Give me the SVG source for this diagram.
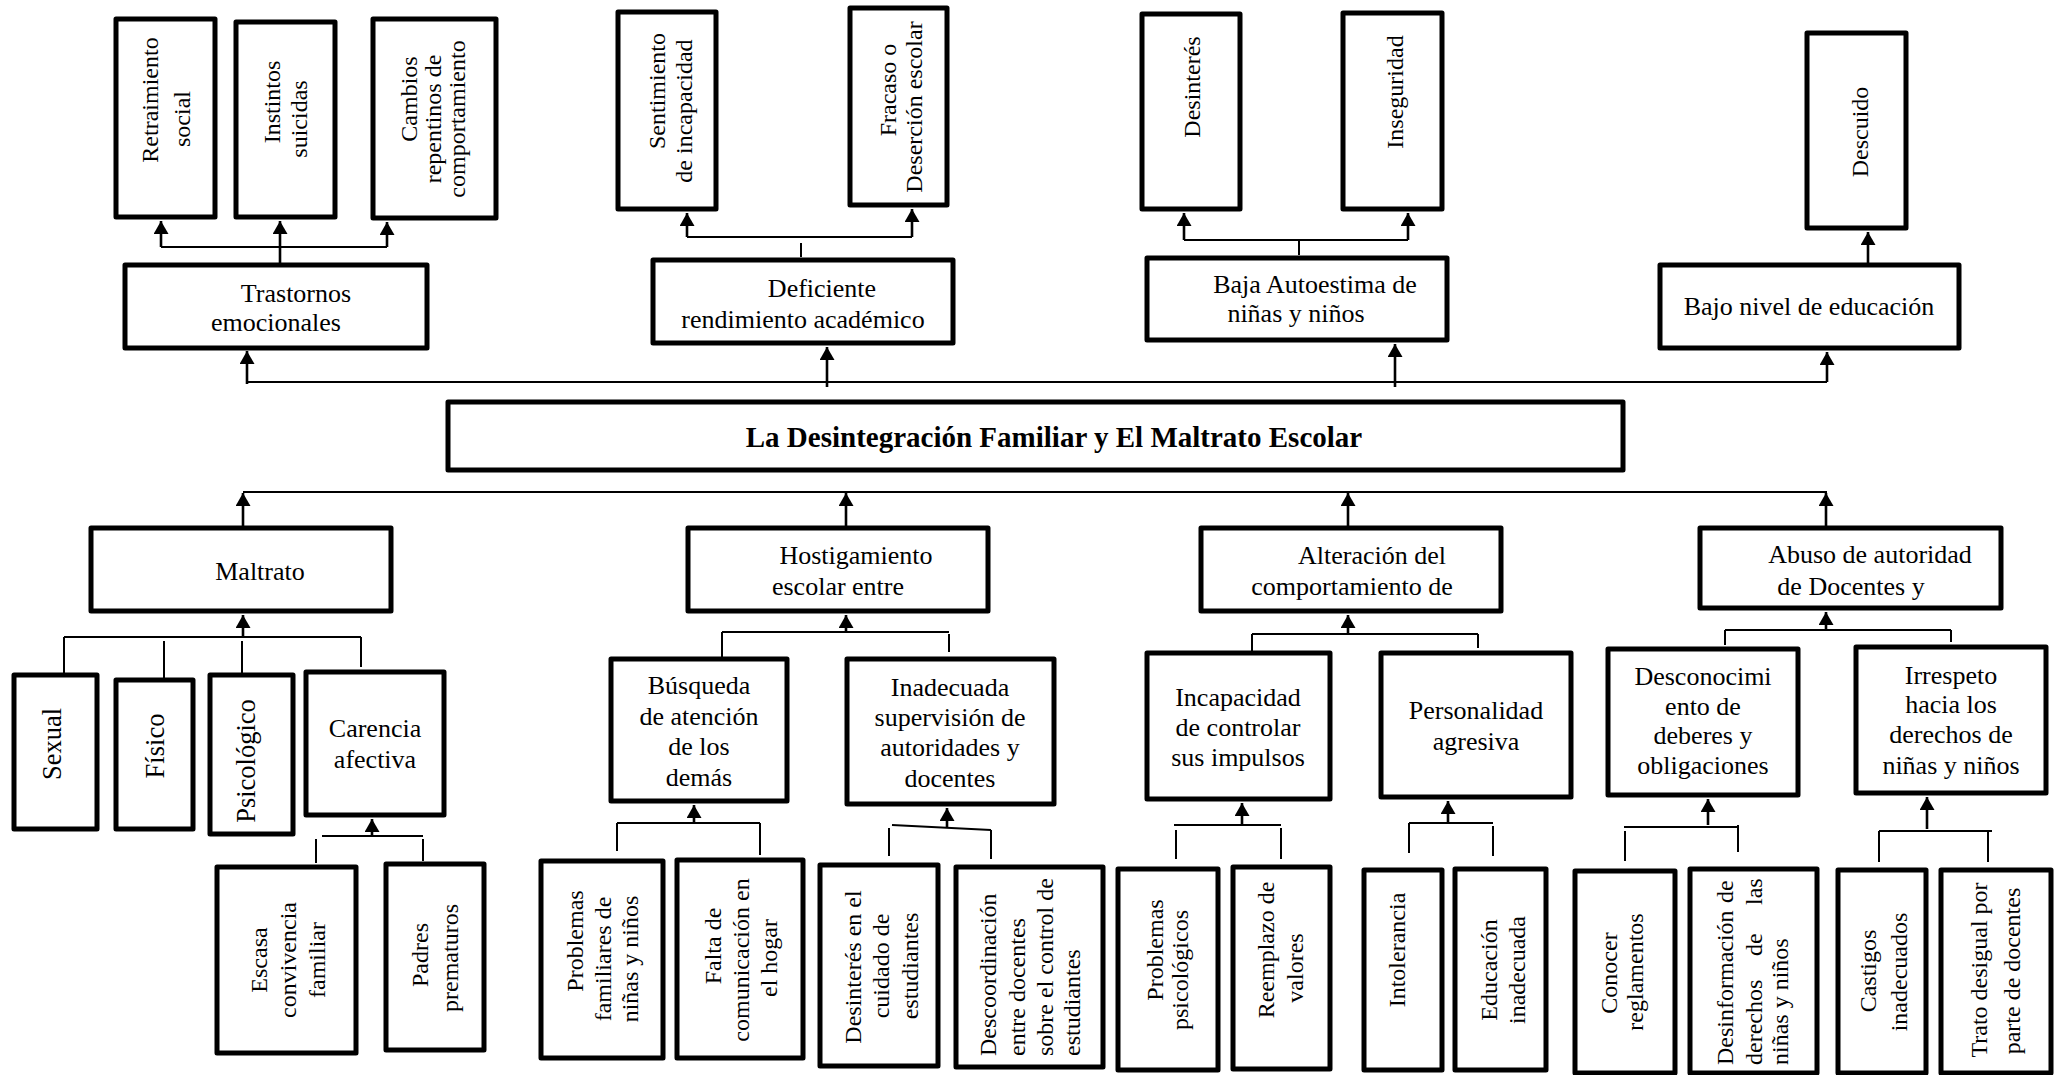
<svg xmlns="http://www.w3.org/2000/svg" width="2063" height="1075" viewBox="0 0 2063 1075">
<style>
.box{fill:#fff;stroke:#000;stroke-width:5;stroke-linejoin:round}
.t{font-family:"Liberation Serif","Times New Roman",serif;font-size:26px;fill:#000;text-anchor:middle}
.tb{font-family:"Liberation Serif","Times New Roman",serif;font-size:29px;font-weight:bold;fill:#000;text-anchor:middle}
.v{font-family:"Liberation Serif","Times New Roman",serif;font-size:24px;fill:#000;text-anchor:middle}
.vs{font-family:"Liberation Serif","Times New Roman",serif;font-size:24px;fill:#000;text-anchor:start}
.vl{font-family:"Liberation Serif","Times New Roman",serif;font-size:26.5px;fill:#000;text-anchor:middle}
.c{stroke:#000;stroke-width:2;fill:none}
.a{stroke-width:2.6;marker-end:url(#ah)}
</style>
<defs>
<marker id="ah" viewBox="0 0 13 15" markerWidth="13" markerHeight="15" refX="13" refY="7.5" orient="auto" markerUnits="userSpaceOnUse">
<path d="M0,0 L13,7.5 L0,15 z" fill="#000"/>
</marker>
</defs>
<rect width="2063" height="1075" fill="#fff"/>

<g id="connectors">
<path class="c" d="M247,382 H1827"/>
<path class="c a" d="M247,384 V351"/>
<path class="c a" d="M827,387 V347"/>
<path class="c a" d="M1395,387 V344"/>
<path class="c a" d="M1827,382 V352"/>
<path class="c a" d="M280,263 V221"/>
<path class="c" d="M161,247 H387"/>
<path class="c a" d="M161,247 V221"/>
<path class="c a" d="M387,247 V222"/>
<path class="c" d="M801,257 V243"/>
<path class="c" d="M687,237 H912"/>
<path class="c a" d="M687,237 V213"/>
<path class="c a" d="M912,237 V209"/>
<path class="c" d="M1299,255 V240"/>
<path class="c" d="M1184,240 H1408"/>
<path class="c a" d="M1184,240 V213"/>
<path class="c a" d="M1408,240 V213"/>
<path class="c a" d="M1868,263 V232"/>
<path class="c" d="M243,492 H1827"/>
<path class="c a" d="M243,526 V493"/>
<path class="c a" d="M846,526 V493"/>
<path class="c a" d="M1348,526 V493"/>
<path class="c a" d="M1826,526 V493"/>
<path class="c" d="M64,637 H361"/>
<path class="c a" d="M243,637 V615"/>
<path class="c" d="M64,637 V673"/>
<path class="c" d="M164,641 V678"/>
<path class="c" d="M242,641 V673"/>
<path class="c" d="M361,637 V667"/>
<path class="c" d="M322,836 H423"/>
<path class="c a" d="M372,836 V819"/>
<path class="c" d="M316,839 V863"/>
<path class="c" d="M423,839 V861"/>
<path class="c" d="M722,632 H949"/>
<path class="c a" d="M846,632 V615"/>
<path class="c" d="M722,632 V657"/>
<path class="c" d="M949,634 V652"/>
<path class="c" d="M617,823 H760"/>
<path class="c a" d="M694,823 V805"/>
<path class="c" d="M617,823 V851"/>
<path class="c" d="M760,823 V855"/>
<path class="c" d="M892,825 L991,830"/>
<path class="c a" d="M947,827 V808"/>
<path class="c" d="M889,828 V856"/>
<path class="c" d="M991,830 V859"/>
<path class="c" d="M1252,634 H1478"/>
<path class="c a" d="M1348,634 V615"/>
<path class="c" d="M1252,634 V651"/>
<path class="c" d="M1478,634 V648"/>
<path class="c" d="M1174,825 H1281"/>
<path class="c a" d="M1242,825 V803"/>
<path class="c" d="M1176,830 V859"/>
<path class="c" d="M1281,828 V859"/>
<path class="c" d="M1409,823 H1493"/>
<path class="c a" d="M1448,823 V801"/>
<path class="c" d="M1409,823 V853"/>
<path class="c" d="M1493,826 V856"/>
<path class="c" d="M1725,630 H1951"/>
<path class="c a" d="M1826,630 V612"/>
<path class="c" d="M1725,630 V645"/>
<path class="c" d="M1951,630 V642"/>
<path class="c" d="M1624,827 H1738"/>
<path class="c a" d="M1708,825 V799"/>
<path class="c" d="M1625,831 V861"/>
<path class="c" d="M1738,825 V852"/>
<path class="c" d="M1879,831 H1992"/>
<path class="c a" d="M1927,829 V797"/>
<path class="c" d="M1879,831 V862"/>
<path class="c" d="M1988,831 V862"/>
</g>

<g id="n-retraimiento">
<rect class="box" x="116" y="19" width="99" height="198"/>
<text class="v" transform="translate(158,100) rotate(-90)">Retraimiento</text>
<text class="v" transform="translate(190,119) rotate(-90)">social</text>
</g>
<g id="n-instintos">
<rect class="box" x="236" y="22" width="99" height="195"/>
<text class="v" transform="translate(280,102) rotate(-90)">Instintos</text>
<text class="v" transform="translate(307,119) rotate(-90)">suicidas</text>
</g>
<g id="n-cambios">
<rect class="box" x="373" y="19" width="123" height="199"/>
<text class="v" transform="translate(417,99) rotate(-90)">Cambios</text>
<text class="v" transform="translate(441,119) rotate(-90)">repentinos de</text>
<text class="v" transform="translate(465,119) rotate(-90)">comportamiento</text>
</g>
<g id="n-sentimiento">
<rect class="box" x="618" y="12" width="98" height="197"/>
<text class="v" transform="translate(665,91) rotate(-90)">Sentimiento</text>
<text class="v" transform="translate(692,111) rotate(-90)">de incapacidad</text>
</g>
<g id="n-fracaso">
<rect class="box" x="850" y="8" width="97" height="197"/>
<text class="v" transform="translate(896,90) rotate(-90)">Fracaso o</text>
<text class="v" transform="translate(922,107) rotate(-90)">Deserción escolar</text>
</g>
<g id="n-desinteres">
<rect class="box" x="1142" y="14" width="98" height="195"/>
<text class="v" transform="translate(1200,87) rotate(-90)">Desinterés</text>
</g>
<g id="n-inseguridad">
<rect class="box" x="1343" y="13" width="99" height="196"/>
<text class="v" transform="translate(1403,92) rotate(-90)">Inseguridad</text>
</g>
<g id="n-descuido">
<rect class="box" x="1807" y="33" width="99" height="195"/>
<text class="v" transform="translate(1868,132) rotate(-90)">Descuido</text>
</g>

<g id="n-trastornos">
<rect class="box" x="125" y="265" width="302" height="83"/>
<text class="t" x="296" y="302">Trastornos</text>
<text class="t" x="276" y="331">emocionales</text>
</g>
<g id="n-deficiente">
<rect class="box" x="653" y="260" width="300" height="83"/>
<text class="t" x="822" y="297">Deficiente</text>
<text class="t" x="803" y="328">rendimiento académico</text>
</g>
<g id="n-baja">
<rect class="box" x="1147" y="258" width="300" height="82"/>
<text class="t" x="1315" y="293">Baja Autoestima de</text>
<text class="t" x="1296" y="322">niñas y niños</text>
</g>
<g id="n-bajo">
<rect class="box" x="1660" y="265" width="299" height="83"/>
<text class="t" x="1809" y="315">Bajo nivel de educación</text>
</g>

<g id="n-title">
<rect class="box" x="448" y="402" width="1175" height="68"/>
<text class="tb" x="1054" y="447">La Desintegración Familiar y El Maltrato Escolar</text>
</g>

<g id="n-maltrato">
<rect class="box" x="91" y="528" width="300" height="83"/>
<text class="t" x="260" y="580">Maltrato</text>
</g>
<g id="n-hostigamiento">
<rect class="box" x="688" y="528" width="300" height="83"/>
<text class="t" x="856" y="564">Hostigamiento</text>
<text class="t" x="838" y="595">escolar entre</text>
</g>
<g id="n-alteracion">
<rect class="box" x="1201" y="528" width="300" height="83"/>
<text class="t" x="1372" y="564">Alteración del</text>
<text class="t" x="1352" y="595">comportamiento de</text>
</g>
<g id="n-abuso">
<rect class="box" x="1700" y="528" width="301" height="80"/>
<text class="t" x="1870" y="563">Abuso de autoridad</text>
<text class="t" x="1851" y="595">de Docentes y</text>
</g>

<g id="n-sexual">
<rect class="box" x="14" y="675" width="83" height="154"/>
<text class="vl" transform="translate(61,744) rotate(-90)">Sexual</text>
</g>
<g id="n-fisico">
<rect class="box" x="116" y="680" width="77" height="149"/>
<text class="vl" transform="translate(164,746) rotate(-90)">Físico</text>
</g>
<g id="n-psicologico">
<rect class="box" x="210" y="675" width="83" height="159"/>
<text class="vl" transform="translate(255,761) rotate(-90)">Psicológico</text>
</g>
<g id="n-carencia">
<rect class="box" x="306" y="672" width="138" height="143"/>
<text class="t" x="375" y="737">Carencia</text>
<text class="t" x="375" y="768">afectiva</text>
</g>
<g id="n-busqueda">
<rect class="box" x="611" y="659" width="176" height="142"/>
<text class="t" x="699" y="694">Búsqueda</text>
<text class="t" x="699" y="725">de atención</text>
<text class="t" x="699" y="755">de los</text>
<text class="t" x="699" y="786">demás</text>
</g>
<g id="n-inadecuada">
<rect class="box" x="847" y="659" width="207" height="145"/>
<text class="t" x="950" y="696">Inadecuada</text>
<text class="t" x="950" y="726">supervisión de</text>
<text class="t" x="950" y="756">autoridades y</text>
<text class="t" x="950" y="787">docentes</text>
</g>
<g id="n-incapacidad">
<rect class="box" x="1147" y="653" width="183" height="146"/>
<text class="t" x="1238" y="706">Incapacidad</text>
<text class="t" x="1238" y="736">de controlar</text>
<text class="t" x="1238" y="766">sus impulsos</text>
</g>
<g id="n-personalidad">
<rect class="box" x="1381" y="653" width="190" height="144"/>
<text class="t" x="1476" y="719">Personalidad</text>
<text class="t" x="1476" y="750">agresiva</text>
</g>
<g id="n-desconocimiento">
<rect class="box" x="1608" y="649" width="190" height="146"/>
<text class="t" x="1703" y="685">Desconocimi</text>
<text class="t" x="1703" y="715">ento de</text>
<text class="t" x="1703" y="744">deberes y</text>
<text class="t" x="1703" y="774">obligaciones</text>
</g>
<g id="n-irrespeto">
<rect class="box" x="1856" y="647" width="190" height="146"/>
<text class="t" x="1951" y="684">Irrespeto</text>
<text class="t" x="1951" y="713">hacia los</text>
<text class="t" x="1951" y="743">derechos de</text>
<text class="t" x="1951" y="774">niñas y niños</text>
</g>

<g id="n-escasa">
<rect class="box" x="217" y="867" width="139" height="186"/>
<text class="v" transform="translate(267,960) rotate(-90)">Escasa</text>
<text class="v" transform="translate(296,960) rotate(-90)">convivencia</text>
<text class="v" transform="translate(325,960) rotate(-90)">familiar</text>
</g>
<g id="n-padres">
<rect class="box" x="386" y="864" width="98" height="186"/>
<text class="v" transform="translate(428,955) rotate(-90)">Padres</text>
<text class="v" transform="translate(458,958) rotate(-90)">prematuros</text>
</g>
<g id="n-problemas-fam">
<rect class="box" x="541" y="861" width="122" height="197"/>
<text class="v" transform="translate(583,941) rotate(-90)">Problemas</text>
<text class="v" transform="translate(611,959) rotate(-90)">familiares de</text>
<text class="v" transform="translate(638,959) rotate(-90)">niñas y niños</text>
</g>
<g id="n-falta">
<rect class="box" x="677" y="860" width="126" height="198"/>
<text class="v" transform="translate(721,946) rotate(-90)">Falta de</text>
<text class="v" transform="translate(749,960) rotate(-90)">comunicación en</text>
<text class="v" transform="translate(777,958) rotate(-90)">el hogar</text>
</g>
<g id="n-desinteres-cuidado">
<rect class="box" x="820" y="865" width="118" height="201"/>
<text class="v" transform="translate(861,967) rotate(-90)">Desinterés en el</text>
<text class="v" transform="translate(889,966) rotate(-90)">cuidado de</text>
<text class="v" transform="translate(918,966) rotate(-90)">estudiantes</text>
</g>
<g id="n-descoordinacion">
<rect class="box" x="956" y="867" width="147" height="200"/>
<text class="vs" transform="translate(996,1056) rotate(-90)">Descoordinación</text>
<text class="vs" transform="translate(1025,1056) rotate(-90)">entre docentes</text>
<text class="vs" transform="translate(1053,1056) rotate(-90)">sobre el control de</text>
<text class="vs" transform="translate(1080,1056) rotate(-90)">estudiantes</text>
</g>
<g id="n-problemas-psic">
<rect class="box" x="1118" y="869" width="100" height="201"/>
<text class="v" transform="translate(1163,950) rotate(-90)">Problemas</text>
<text class="v" transform="translate(1188,970) rotate(-90)">psicológicos</text>
</g>
<g id="n-reemplazo">
<rect class="box" x="1233" y="867" width="97" height="202"/>
<text class="v" transform="translate(1274,950) rotate(-90)">Reemplazo de</text>
<text class="v" transform="translate(1303,968) rotate(-90)">valores</text>
</g>
<g id="n-intolerancia">
<rect class="box" x="1364" y="870" width="78" height="200"/>
<text class="v" transform="translate(1405,950) rotate(-90)">Intolerancia</text>
</g>
<g id="n-educacion">
<rect class="box" x="1455" y="869" width="91" height="201"/>
<text class="v" transform="translate(1497,970) rotate(-90)">Educación</text>
<text class="v" transform="translate(1525,970) rotate(-90)">inadecuada</text>
</g>
<g id="n-conocer">
<rect class="box" x="1575" y="871" width="100" height="202"/>
<text class="v" transform="translate(1617,973) rotate(-90)">Conocer</text>
<text class="v" transform="translate(1643,972) rotate(-90)">reglamentos</text>
</g>
<g id="n-desinformacion">
<rect class="box" x="1690" y="869" width="127" height="204"/>
<text class="vs" transform="translate(1733,1065) rotate(-90)">Desinformación<tspan x="162">de</tspan></text>
<text class="vs" transform="translate(1762,1065) rotate(-90)">derechos<tspan x="109">de</tspan><tspan x="160">las</tspan></text>
<text class="vs" transform="translate(1788,1065) rotate(-90)">niñas y niños</text>
</g>
<g id="n-castigos">
<rect class="box" x="1838" y="870" width="88" height="203"/>
<text class="v" transform="translate(1876,971) rotate(-90)">Castigos</text>
<text class="v" transform="translate(1907,972) rotate(-90)">inadecuados</text>
</g>
<g id="n-trato">
<rect class="box" x="1941" y="870" width="110" height="203"/>
<text class="v" transform="translate(1987,970) rotate(-90)">Trato desigual por</text>
<text class="v" transform="translate(2020,971) rotate(-90)">parte de docentes</text>
</g>
</svg>
